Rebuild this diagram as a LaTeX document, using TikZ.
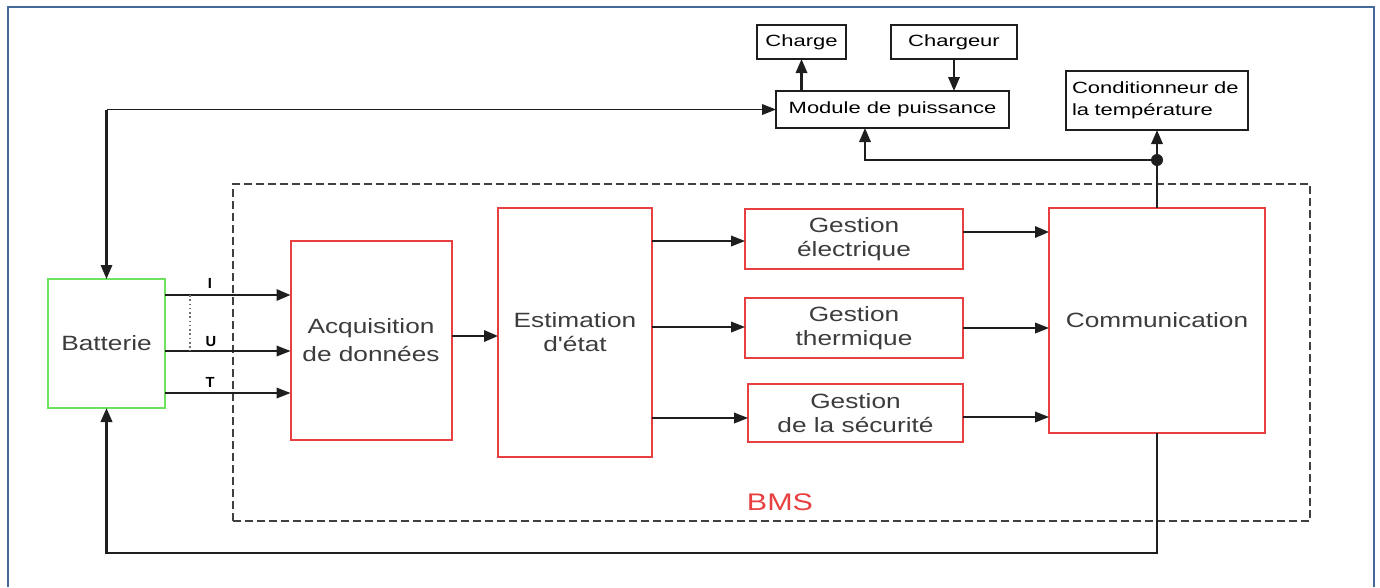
\documentclass[tikz,border=0pt]{standalone}
\usepackage{fontspec}
\setmainfont{Liberation Sans}
\newfontfamily\mainf[FakeStretch=1.27]{Liberation Sans}
\newfontfamily\smallf[FakeStretch=1.35]{Liberation Sans}
\usetikzlibrary{arrows.meta,calc}
\definecolor{bred}{RGB}{232,64,64}
\definecolor{bgreen}{RGB}{110,225,95}
\definecolor{framec}{RGB}{70,105,155}
\definecolor{txtc}{RGB}{60,60,60}
\definecolor{linec}{RGB}{30,30,30}
\begin{document}
\begin{tikzpicture}[x=0.75pt,y=-0.75pt,
  sz/.style 2 args={minimum width=#1*0.75pt, minimum height=#2*0.75pt, inner sep=0pt, outer sep=0pt},
  redbox/.style={draw=bred, line width=1.5pt, align=center, text=txtc, font=\mainf\fontsize{15.5}{18}\selectfont},
  blkbox/.style={draw=linec, line width=1.3pt, align=center, text=black, font=\smallf\fontsize{12.2}{16.5}\selectfont},
  arr/.style={draw=linec, line width=1.1pt, -{Triangle[length=10.5pt,width=8pt]}},
  arrb/.style={draw=linec, line width=1.7pt, -{Triangle[length=10.5pt,width=8.5pt]}},
  lbl/.style={font=\fontsize{11}{13}\selectfont\bfseries, text=black, inner sep=0pt}
]
\useasboundingbox (0,0) rectangle (1380,587);
% outer frame
\draw[framec, line width=2.2pt] (8,587) -- (8,7) -- (1374,7) -- (1374,587);
% BMS dashed area
\node[draw=black!75, dashed, dash pattern=on 6pt off 3pt, line width=1.4pt, sz={1077}{337}] (bms) at (771.5,352.5) {};
\node[text=bred, font=\mainf\fontsize{18}{20}\selectfont, inner sep=0pt] (bmsl) at (780,502) {BMS};
% boxes
\node[draw=bgreen, line width=1.5pt, text=txtc, font=\mainf\fontsize{15.5}{18}\selectfont, sz={117}{129}] (bat) at (106.5,343.5) {Batterie};
\node[redbox, sz={161}{199}] (acq) at (371,340.5) {Acquisition\\[3pt]de données};
\node[redbox, sz={154}{249}] (est) at (575,332.5) {Estimation\\d'état};
\node[redbox, sz={218}{60}] (ge) at (854,239) {Gestion\\électrique};
\node[redbox, sz={218}{60}] (gt) at (854,328) {Gestion\\thermique};
\node[redbox, sz={215}{58}] (gs) at (855.5,413) {Gestion\\de la sécurité};
\node[redbox, sz={216}{225}] (com) at (1157,320.5) {Communication};
\node[blkbox, sz={233}{37}] (mod) at (892.5,109.5) {Module de puissance};
\node[blkbox, sz={89}{34}] (chg) at (801.5,42) {Charge};
\node[blkbox, sz={126}{34}] (chr) at (954,42) {Chargeur};
\node[blkbox, sz={182}{59}, align=left, text width=170*0.75pt] (cond) at (1157,100.5) {Conditionneur de\\la température};
% level coordinates
\coordinate (yI) at (0,295);
\coordinate (yU) at (0,351);
\coordinate (yT) at (0,393);
\coordinate (yA) at (0,336);
\coordinate (e1) at (0,241);
\coordinate (e2) at (0,327);
\coordinate (e3) at (0,418);
\coordinate (c1) at (0,232);
\coordinate (c2) at (0,328);
\coordinate (c3) at (0,417);
\coordinate (xd) at (190,0);
\coordinate (xm) at (865,0);
\coordinate (dot) at (1157,160);
% battery measurement lines
\draw[arrb] (bat.east |- yI) -- (acq.west |- yI);
\draw[arr] (bat.east |- yU) -- (acq.west |- yU);
\draw[arr] (bat.east |- yT) -- (acq.west |- yT);
\draw[black!55, dotted, line width=1.2pt] (xd |- yI) -- (xd |- yU);
\node[lbl] (lI) at (210,283) {I};
\node[lbl] (lU) at (211,342) {U};
\node[lbl] (lT) at (210,382) {T};
% acquisition -> estimation
\draw[arrb] (acq.east |- yA) -- (est.west |- yA);
% estimation -> gestions
\draw[arr] (est.east |- e1) -- (ge.west |- e1);
\draw[arr] (est.east |- e2) -- (gt.west |- e2);
\draw[arr] (est.east |- e3) -- (gs.west |- e3);
% gestions -> communication
\draw[arrb] (ge.east |- c1) -- (com.west |- c1);
\draw[arr] (gt.east |- c2) -- (com.west |- c2);
\draw[arr] (gs.east |- c3) -- (com.west |- c3);
% top connections
\draw[arrb] (chg.south |- mod.north) -- (chg.south);
\draw[arrb] (chr.south) -- (chr.south |- mod.north);
\draw[arrb] (com.north) -- (cond.south);
\fill[linec] (dot) circle (4.5pt);
\draw[arrb] (dot) -| (xm |- mod.south);
% battery <-> module de puissance
\draw[arrb, {Triangle[length=10.5pt,width=8.5pt]}-] (bat.north) -- (bat.north |- mod.west);
\draw[arr] (bat.north |- mod.west) -- (mod.west);
% communication -> battery (bottom loop)
\draw[arrb, line width=2pt] (com.south) -- ++(0,120) -| (bat.south);
\end{tikzpicture}
\end{document}
